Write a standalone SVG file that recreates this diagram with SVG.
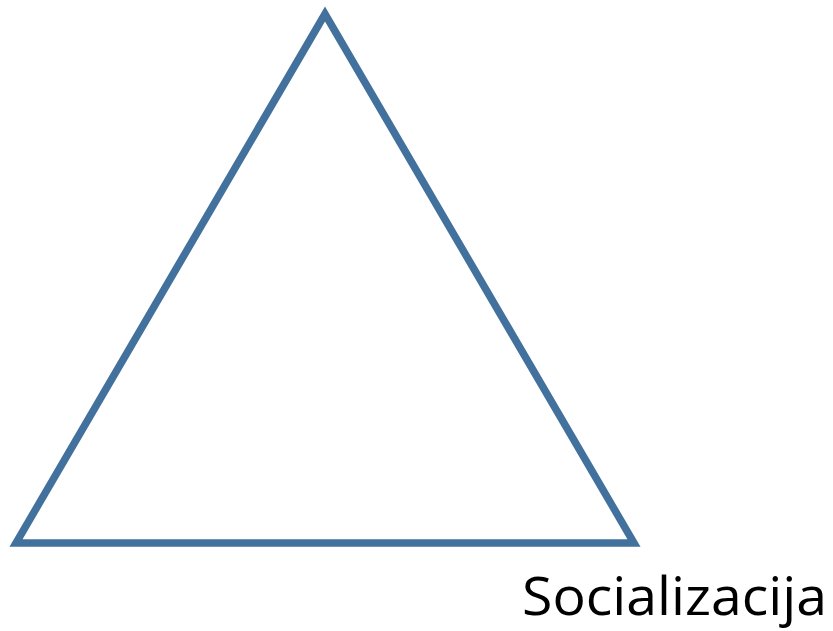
<svg xmlns="http://www.w3.org/2000/svg" width="833" height="631" viewBox="0 0 833 631">
<style>
.tri{fill:none;stroke:#41719C;stroke-width:7.5;stroke-linejoin:miter;stroke-miterlimit:10}
.lbl{font-family:"Open Sans","Liberation Sans",sans-serif;font-size:53px;fill:#000}
</style>
<rect width="833" height="631" fill="#fff"/>
<g id="triangle">
<polygon class="tri" points="325,14 16,543 634,543"/>
</g>
<g id="label">
<text class="lbl" x="522" y="615" textLength="305" lengthAdjust="spacingAndGlyphs">Socializacija</text>
</g>
</svg>
